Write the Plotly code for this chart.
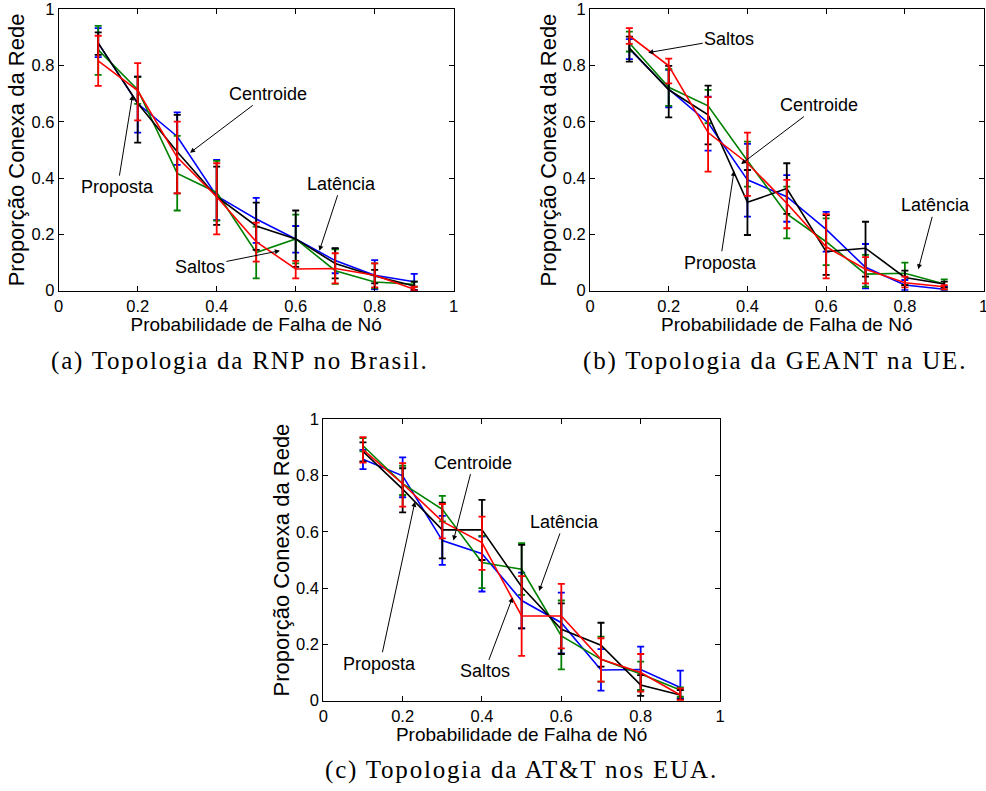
import plotly.graph_objects as go

x = [0.1, 0.2, 0.3, 0.4, 0.5, 0.6, 0.7, 0.8, 0.9]

# ---- (a) RNP ----
a_blue = [0.88, 0.665, 0.548, 0.337, 0.255, 0.184, 0.107, 0.055, 0.032]
a_blue_hi = [0.933, 0.761, 0.634, 0.465, 0.33, 0.23, 0.149, 0.109, 0.06]
a_blue_lo = [0.83, 0.562, 0.447, 0.251, 0.17, 0.135, 0.062, 0.005, 0.002]
a_green = [0.856, 0.714, 0.417, 0.349, 0.136, 0.184, 0.071, 0.031, 0.023]
a_green_hi = [0.941, 0.759, 0.55, 0.461, 0.228, 0.27, 0.147, 0.097, 0.032]
a_green_lo = [0.767, 0.664, 0.285, 0.249, 0.044, 0.097, 0.024, 0.008, 0.014]
a_black = [0.88, 0.666, 0.494, 0.334, 0.23, 0.184, 0.097, 0.052, 0.017]
a_black_hi = [0.918, 0.761, 0.625, 0.441, 0.313, 0.285, 0.151, 0.074, 0.032]
a_black_lo = [0.838, 0.526, 0.346, 0.234, 0.145, 0.085, 0.044, 0.026, 0.002]
a_red = [0.817, 0.711, 0.474, 0.334, 0.174, 0.077, 0.079, 0.055, 0.005]
a_red_hi = [0.906, 0.809, 0.601, 0.453, 0.242, 0.106, 0.133, 0.097, 0.014]
a_red_lo = [0.728, 0.605, 0.346, 0.2, 0.103, 0.044, 0.026, 0.012, 0.0]

# ---- (b) GEANT ----
b_blue = [0.859, 0.716, 0.597, 0.394, 0.334, 0.218, 0.083, 0.02, 0.005]
b_blue_hi = [0.894, 0.785, 0.69, 0.522, 0.411, 0.28, 0.166, 0.038, 0.014]
b_blue_lo = [0.823, 0.652, 0.498, 0.263, 0.245, 0.139, 0.008, 0.002, 0.0]
b_green = [0.88, 0.723, 0.657, 0.462, 0.273, 0.174, 0.059, 0.062, 0.024]
b_green_hi = [0.921, 0.787, 0.714, 0.53, 0.37, 0.257, 0.127, 0.1, 0.04]
b_green_lo = [0.85, 0.657, 0.595, 0.37, 0.186, 0.091, 0.014, 0.02, 0.005]
b_black = [0.862, 0.714, 0.625, 0.314, 0.363, 0.139, 0.151, 0.047, 0.024]
b_black_hi = [0.903, 0.799, 0.729, 0.429, 0.453, 0.269, 0.245, 0.071, 0.032]
b_black_lo = [0.814, 0.616, 0.52, 0.198, 0.273, 0.056, 0.05, 0.02, 0.012]
b_red = [0.906, 0.799, 0.562, 0.453, 0.311, 0.156, 0.076, 0.028, 0.014]
b_red_hi = [0.933, 0.825, 0.688, 0.562, 0.394, 0.272, 0.119, 0.05, 0.02]
b_red_lo = [0.877, 0.737, 0.423, 0.337, 0.222, 0.044, 0.026, 0.012, 0.005]

# ---- (c) AT&T ----
c_blue = [0.858, 0.799, 0.569, 0.522, 0.356, 0.277, 0.109, 0.111, 0.047]
c_blue_hi = [0.891, 0.865, 0.657, 0.583, 0.455, 0.384, 0.183, 0.192, 0.107]
c_blue_lo = [0.823, 0.723, 0.483, 0.388, 0.257, 0.168, 0.036, 0.036, 0.008]
c_green = [0.906, 0.771, 0.68, 0.491, 0.467, 0.23, 0.147, 0.095, 0.038]
c_green_hi = [0.933, 0.835, 0.728, 0.586, 0.56, 0.356, 0.228, 0.139, 0.047]
c_green_lo = [0.886, 0.731, 0.637, 0.4, 0.376, 0.111, 0.068, 0.038, 0.014]
c_black = [0.886, 0.752, 0.607, 0.607, 0.405, 0.254, 0.197, 0.056, 0.02]
c_black_hi = [0.918, 0.826, 0.704, 0.714, 0.554, 0.346, 0.277, 0.091, 0.038]
c_black_lo = [0.85, 0.669, 0.506, 0.5, 0.257, 0.166, 0.121, 0.017, 0.005]
c_red = [0.892, 0.771, 0.637, 0.562, 0.301, 0.301, 0.147, 0.1, 0.02]
c_red_hi = [0.937, 0.844, 0.699, 0.654, 0.443, 0.415, 0.222, 0.166, 0.044]
c_red_lo = [0.846, 0.69, 0.577, 0.465, 0.159, 0.186, 0.068, 0.032, 0.002]

tick_vals = [0, 0.2, 0.4, 0.6, 0.8, 1]
tick_text = ["0", "0.2", "0.4", "0.6", "0.8", "1"]
x_title = "Probabilidade de Falha de Nó"
y_title = "Proporção Conexa da Rede"
captions = ["(a) Topologia da RNP no Brasil.", "(b) Topologia da GEANT na UE.",
            "(c) Topologia da AT&amp;T nos EUA."]

colors = {"blue": "#0000ff", "green": "#008000", "black": "#000000", "red": "#ff0000"}
names = {"blue": "Centroide", "green": "Saltos", "black": "Latência", "red": "Proposta"}

panels = [
    {"blue": (a_blue, a_blue_hi, a_blue_lo), "green": (a_green, a_green_hi, a_green_lo),
     "black": (a_black, a_black_hi, a_black_lo), "red": (a_red, a_red_hi, a_red_lo)},
    {"blue": (b_blue, b_blue_hi, b_blue_lo), "green": (b_green, b_green_hi, b_green_lo),
     "black": (b_black, b_black_hi, b_black_lo), "red": (b_red, b_red_hi, b_red_lo)},
    {"blue": (c_blue, c_blue_hi, c_blue_lo), "green": (c_green, c_green_hi, c_green_lo),
     "black": (c_black, c_black_hi, c_black_lo), "red": (c_red, c_red_hi, c_red_lo)},
]

W, H = 986, 791
# pixel boxes (left, right, top, bottom)
boxes = [(58.7, 453.7, 9.3, 290.7), (590.0, 983.6, 9.3, 290.7), (323.3, 720.0, 419.3, 700.7)]

fig = go.Figure()
for i, panel in enumerate(panels):
    sfx = "" if i == 0 else str(i + 1)
    for key in ["blue", "green", "black", "red"]:
        val, hi, lo = panel[key]
        fig.add_trace(go.Scatter(
            x=x, y=val, mode="lines", name=names[key], showlegend=False,
            line=dict(color=colors[key], width=1.6),
            error_y=dict(type="data", symmetric=False,
                         array=[h - v for h, v in zip(hi, val)],
                         arrayminus=[v - l for v, l in zip(val, lo)],
                         color=colors[key], thickness=1.8, width=3.5),
            xaxis="x" + sfx, yaxis="y" + sfx))

layout = dict(width=W, height=H, margin=dict(l=0, r=0, t=0, b=0),
              paper_bgcolor="white", plot_bgcolor="white",
              font=dict(family="Liberation Sans, Arial, sans-serif", color="black"))
for i, (l, r, t, b) in enumerate(boxes):
    sfx = "" if i == 0 else str(i + 1)
    ax_common = dict(range=[0, 1], tickvals=tick_vals, ticktext=tick_text,
                     showline=True, linecolor="black", linewidth=1, mirror="ticks",
                     ticks="inside", ticklen=5, tickcolor="black", showgrid=False,
                     zeroline=False, tickfont=dict(size=16.5), automargin=False,
                     ticklabeloverflow="allow")
    layout["xaxis" + sfx] = dict(ax_common, domain=[l / W, r / W], anchor="y" + sfx,
                                 title=dict(text=x_title, font=dict(size=19), standoff=0))
    layout["yaxis" + sfx] = dict(ax_common, domain=[1 - b / H, 1 - t / H], anchor="x" + sfx,
                                 title=dict(text=y_title, font=dict(size=22), standoff=0))
fig.update_layout(**layout)

# annotations: (axis suffix, label, head x, head y, ax, ay)
ann = [
    ("", "Centroide", 0.3325, 0.490, 78, -59),
    ("", "Proposta", 0.187, 0.695, -15, 92),
    ("", "Latência", 0.66, 0.142, 22, -67),
    ("", "Saltos", 0.560, 0.142, -80, 16),
    ("2", "Saltos", 0.148, 0.846, 81, -14),
    ("2", "Centroide", 0.384, 0.450, 78, -59),
    ("2", "Proposta", 0.366, 0.426, -14, 92),
    ("2", "Latência", 0.834, 0.076, 17, -64),
    ("3", "Centroide", 0.328, 0.569, 20, -78),
    ("3", "Latência", 0.544, 0.390, 25, -69),
    ("3", "Proposta", 0.231, 0.707, -35, 162),
    ("3", "Saltos", 0.477, 0.367, -28, 74),
]
for sfx, txt, hx, hy, axp, ayp in ann:
    fig.add_annotation(x=hx, y=hy, xref="x" + sfx, yref="y" + sfx, text=txt,
                       showarrow=True, ax=axp, ay=ayp, arrowhead=2, arrowsize=1,
                       arrowwidth=1, arrowcolor="black",
                       font=dict(size=18, color="black"))

cap_pos = [(240, 361), (775, 361), (521, 770)]
for txt, (cx, cy) in zip(captions, cap_pos):
    fig.add_annotation(x=cx / W, y=1 - cy / H, xref="paper", yref="paper",
                       text='<span style="letter-spacing:1.8px">' + txt + '</span>',
                       showarrow=False, xanchor="center", yanchor="middle",
                       font=dict(family="Liberation Serif, serif", size=25, color="black"))

fig.write_html("out.html", config={"displayModeBar": False},
               post_script="document.body.style.margin='0px';document.body.style.overflow='hidden';")
